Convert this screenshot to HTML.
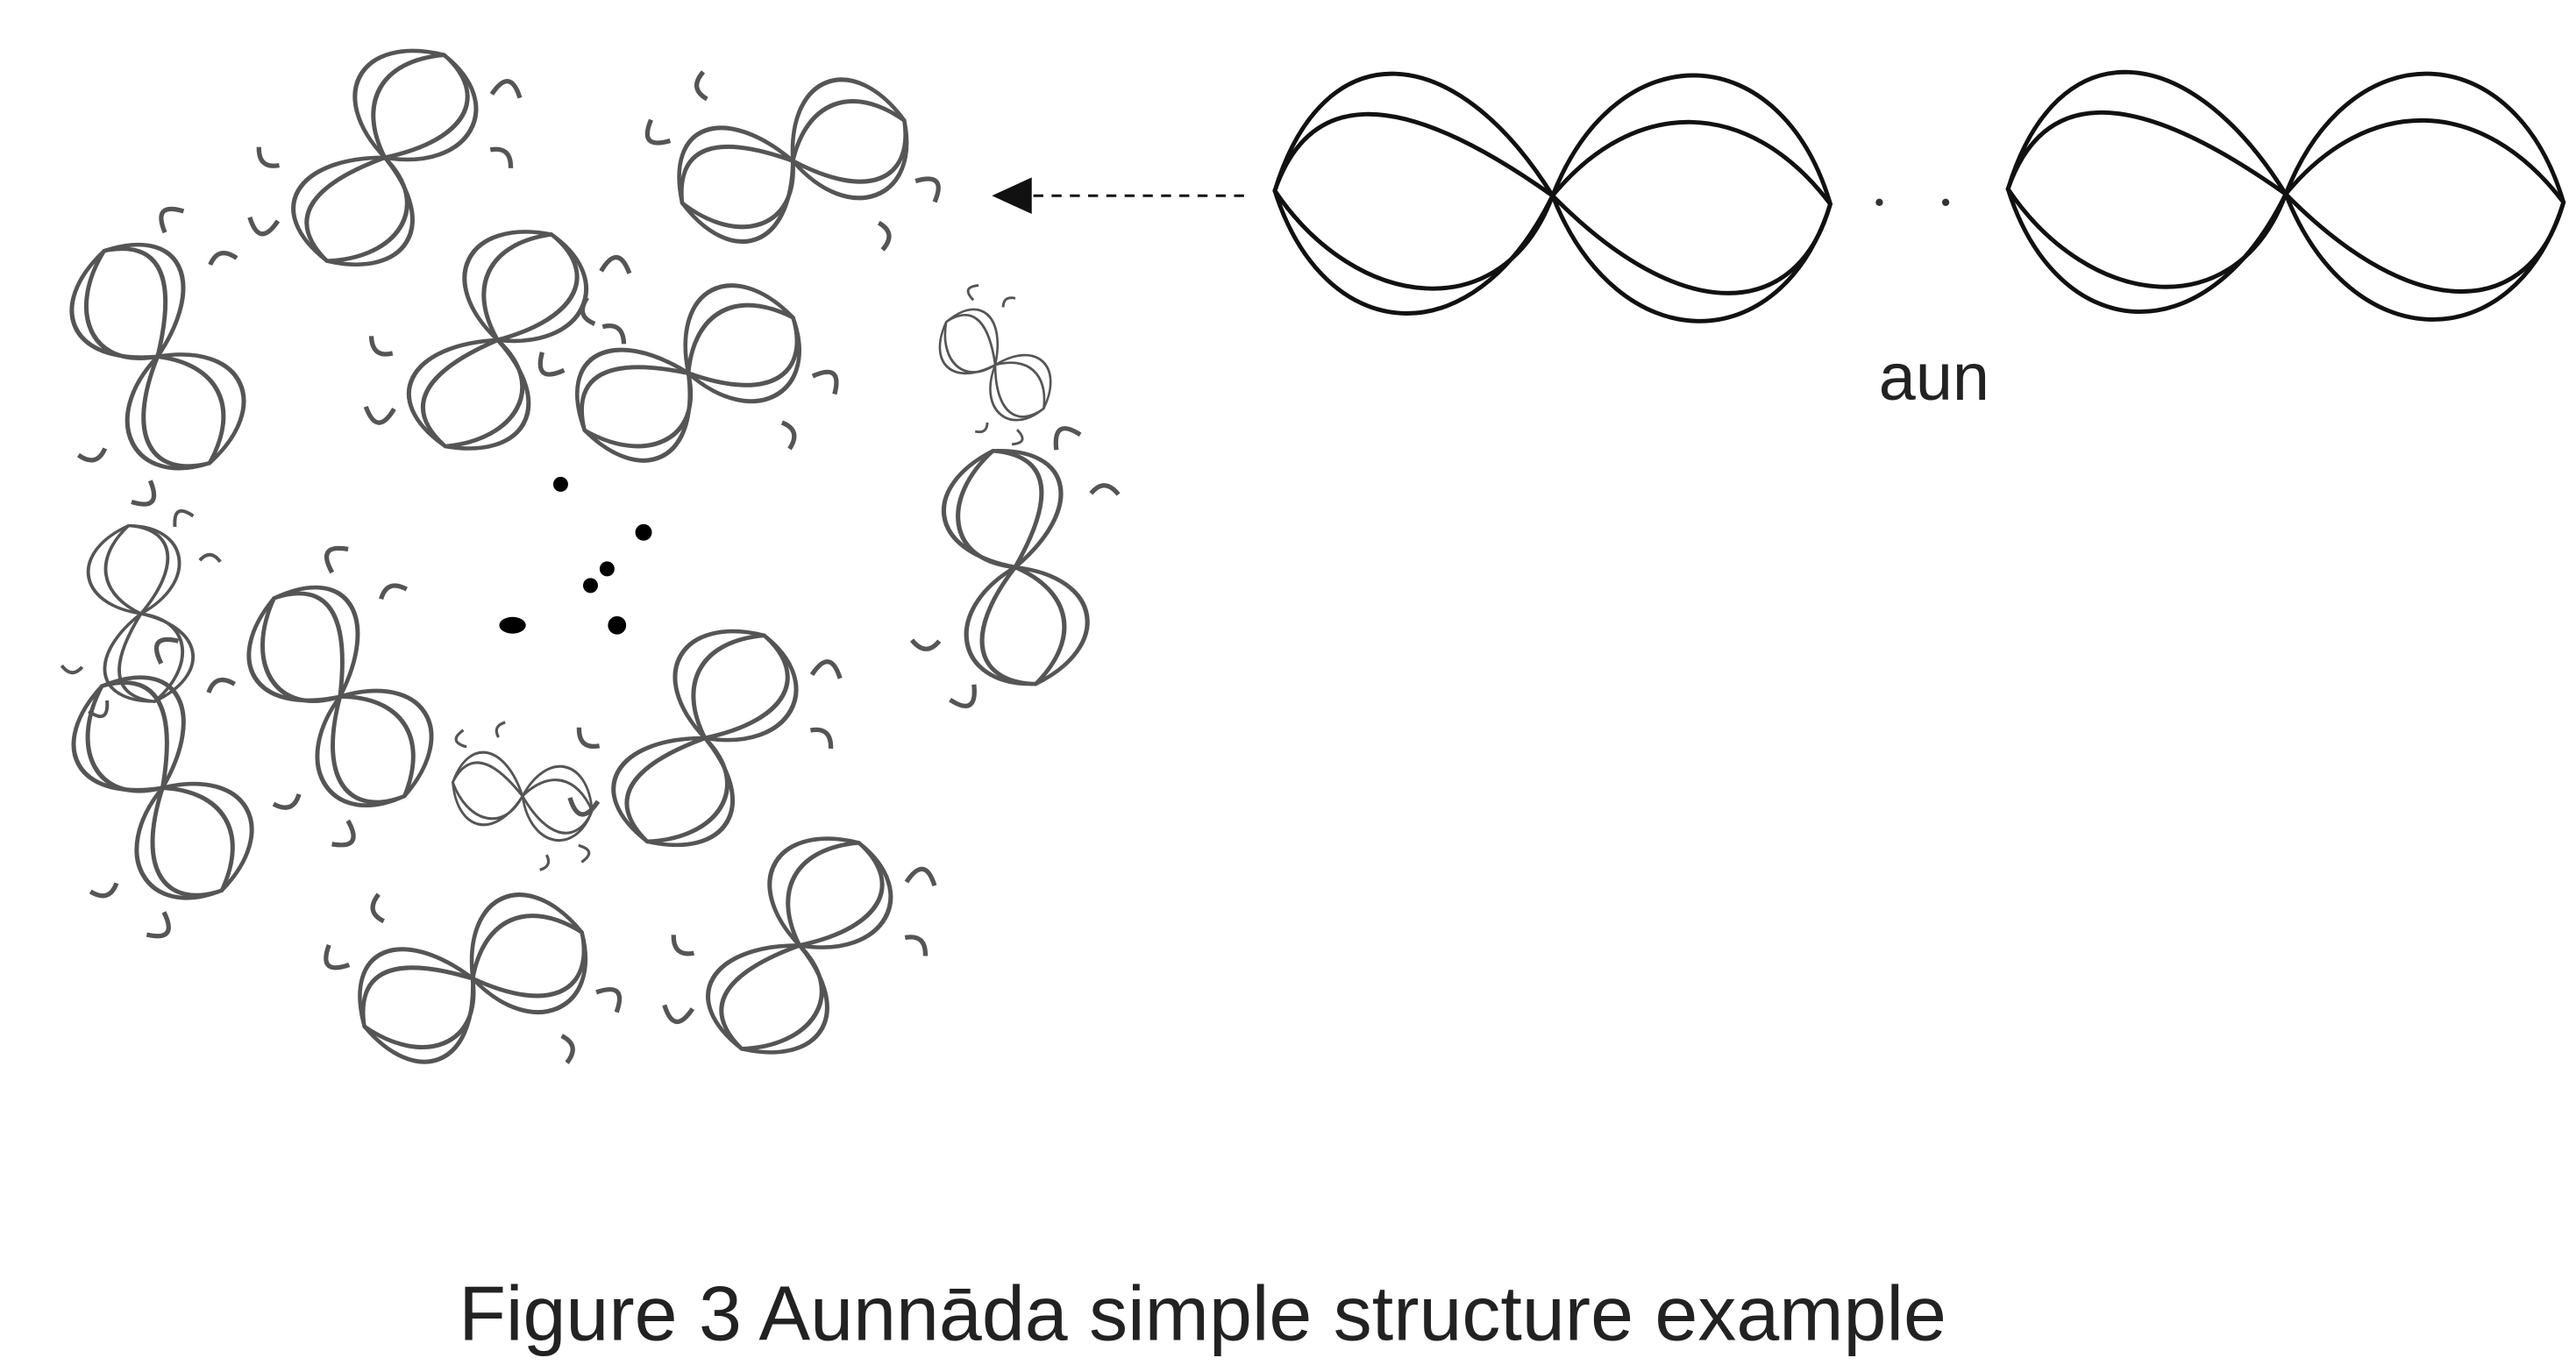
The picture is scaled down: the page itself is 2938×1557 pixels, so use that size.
<!DOCTYPE html>
<html><head><meta charset="utf-8"><style>
html,body{margin:0;padding:0;background:#fff;}
svg{display:block;}
</style></head><body>
<svg width="2938" height="1557" viewBox="0 0 1553 823" preserveAspectRatio="none" xmlns="http://www.w3.org/2000/svg">
<defs>
<g id="unit" fill="none" stroke-width="2.6" stroke-linecap="round">
  <path d="M-170,-3 C-140,-100 -60,-95 0,0"/>
  <path d="M-170,-3 C-150,-60 -100,-70 0,0"/>
  <path d="M-170,-3 C-140,90 -50,100 0,0"/>
  <path d="M-170,-3 C-120,70 -30,80 0,0"/>
  <path d="M0,0 C40,-100 140,-95 170,5"/>
  <path d="M0,0 C50,-60 120,-60 170,5"/>
  <path d="M0,0 C40,100 140,100 170,5"/>
  <path d="M0,0 C80,80 150,75 170,5"/>
</g>
<g id="unitc" fill="none" stroke-width="5.5" stroke-linecap="round">
  <path d="M-170,-3 C-150,-100 -60,-95 0,0"/>
  <path d="M-170,-3 C-150,-60 -100,-75 0,0"/>
  <path d="M-170,-3 C-140,90 -50,100 0,0"/>
  <path d="M-170,-3 C-120,70 -30,80 0,0"/>
  <path d="M0,0 C40,-100 140,-95 170,5"/>
  <path d="M0,0 C50,-60 120,-60 170,5"/>
  <path d="M0,0 C40,100 150,100 170,5"/>
  <path d="M0,0 C80,80 150,75 170,5"/>
</g>
<g id="g">
  <g transform="scale(0.42,0.5)"><use href="#unitc"/></g>
  <path d="M-70,-55 q-14,14 6,16 M70,55 q14,-14 -6,-16 M-30,-70 q-12,6 -4,16 M30,70 q12,-6 4,-16" fill="none" stroke-width="2.8"/>
</g>
</defs>

<g stroke="#111">
  <g transform="translate(936,118) scale(0.985,1)"><use href="#unit"/></g>
  <g transform="translate(1378,117) scale(0.985,1)"><use href="#unit"/></g>
</g>
<circle cx="1133" cy="122" r="2.2" fill="#333"/>
<circle cx="1173" cy="122" r="2.2" fill="#333"/>
<text x="1166" y="241" font-family="Liberation Sans, sans-serif" font-size="40" fill="#222" text-anchor="middle">aun</text>

<line x1="750" y1="118" x2="620" y2="118" stroke="#111" stroke-width="1.6" stroke-dasharray="6,5"/>
<polygon points="598,118 622,107 622,129" fill="#111"/>

<g stroke="#555">
  <g transform="translate(232,95) rotate(-62)"><use href="#g"/></g>
  <g transform="translate(478,97) rotate(-22)"><use href="#g"/></g>
  <g transform="translate(300,205) rotate(-65)"><use href="#g"/></g>
  <g transform="translate(415,225) rotate(-30)"><use href="#g"/></g>
  <g transform="translate(95,215) rotate(62)"><use href="#g"/></g>
  <g transform="translate(612,342) rotate(78)"><use href="#g"/></g>
  <g transform="translate(85,370) rotate(-100) scale(0.75)"><use href="#g"/></g>
  <g transform="translate(205,420) rotate(55)"><use href="#g"/></g>
  <g transform="translate(98,475) rotate(58)"><use href="#g"/></g>
  <g transform="translate(425,445) rotate(-62)"><use href="#g"/></g>
  <g transform="translate(285,590) rotate(-25)"><use href="#g"/></g>
  <g transform="translate(482,570) rotate(-62)"><use href="#g"/></g>
  <g transform="translate(315,480) rotate(10) scale(0.6)"><use href="#g"/></g>
  <g transform="translate(600,220) rotate(40) scale(0.55)"><use href="#g"/></g>
</g>
<g fill="#000">
  <circle cx="338" cy="292" r="4.5"/>
  <circle cx="388" cy="321" r="5"/>
  <circle cx="366" cy="343" r="4.5"/>
  <circle cx="356" cy="353" r="4.5"/>
  <ellipse cx="309" cy="377" rx="8" ry="5"/>
  <circle cx="372" cy="377" r="5.5"/>
</g>

<text x="725" y="808" font-family="Liberation Sans, sans-serif" font-size="46.5" fill="#222" text-anchor="middle">Figure 3 Aunnāda simple structure example</text>
</svg>
</body></html>
